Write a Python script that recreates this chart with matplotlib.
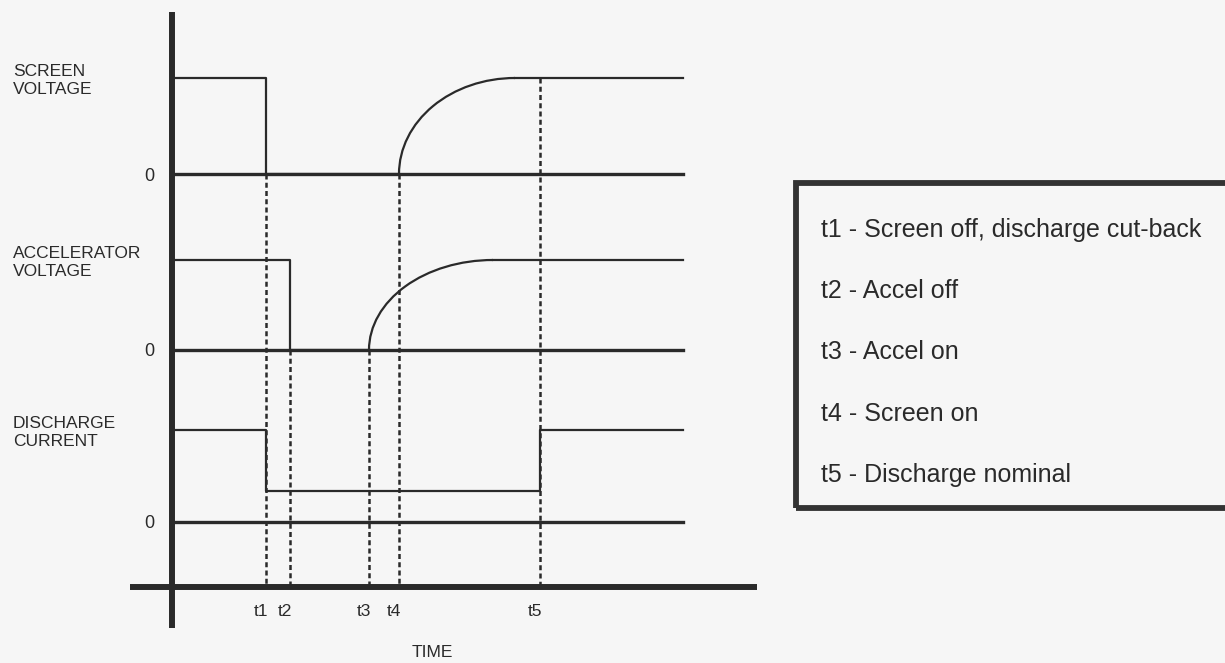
import matplotlib
matplotlib.use("Agg")
import matplotlib.pyplot as plt
from matplotlib.patches import Arc, Rectangle

# event times (arbitrary time units) and their labels
event_labels = ["t1", "t2", "t3", "t4", "t5"]
event_times = [0.94, 1.18, 1.97, 2.27, 3.68]
t_end = 5.11

# traces: stacked baselines and "on" amplitudes
signal_names = ["SCREEN\nVOLTAGE", "ACCELERATOR\nVOLTAGE", "DISCHARGE\nCURRENT"]
baselines = [4.13, 2.37, 0.65]
amplitudes = [0.96, 0.90, 0.92]
discharge_cutback = 0.31
screen_rise_end = 3.43
accel_rise_end = 3.21

# dashed guide tops for each event
dashed_tops = [4.13, 2.37, 2.37, 4.13, 5.09]

legend_lines = [
    "t1 - Screen off, discharge cut-back",
    "t2 - Accel off",
    "t3 - Accel on",
    "t4 - Screen on",
    "t5 - Discharge nominal",
]

ink = "#2a2a2a"
bg = "#f6f6f6"
plt.rcParams["font.family"] = ["Liberation Sans", "DejaVu Sans"]

fig = plt.figure(figsize=(12.25, 6.63), dpi=100, facecolor=bg)
ax = fig.add_axes([0, 0, 1, 1], facecolor=bg)
ax.set_xlim(-1.72, 10.53)
ax.set_ylim(-0.76, 5.87)
ax.axis("off")

# dashed event guides
for t, top in zip(event_times, dashed_tops):
    ax.plot([t, t], [top, 0], color=ink, lw=1.8, ls=(0, (2.0, 1.3)), zorder=1)

# zero lines
for b in baselines:
    ax.plot([0, t_end], [b, b], color=ink, lw=2.4, zorder=2)

t1, t2, t3, t4, t5 = event_times
s_base, a_base, d_base = baselines
s_amp, a_amp, d_amp = amplitudes

# screen voltage
ax.plot([0, t1, t1, t4], [s_base + s_amp, s_base + s_amp, s_base, s_base], color=ink, lw=1.6, zorder=3)
ax.add_patch(Arc((screen_rise_end, s_base), 2 * (screen_rise_end - t4), 2 * s_amp,
                 theta1=90, theta2=180, color=ink, lw=1.6, zorder=3))
ax.plot([screen_rise_end, t_end], [s_base + s_amp] * 2, color=ink, lw=1.6, zorder=3)

# accelerator voltage
ax.plot([0, t2, t2, t3], [a_base + a_amp, a_base + a_amp, a_base, a_base], color=ink, lw=1.6, zorder=3)
ax.add_patch(Arc((accel_rise_end, a_base), 2 * (accel_rise_end - t3), 2 * a_amp,
                 theta1=90, theta2=180, color=ink, lw=1.6, zorder=3))
ax.plot([accel_rise_end, t_end], [a_base + a_amp] * 2, color=ink, lw=1.6, zorder=3)

# discharge current
d_hi = d_base + d_amp
d_lo = d_base + discharge_cutback
ax.plot([0, t1, t1, t5, t5, t_end], [d_hi, d_hi, d_lo, d_lo, d_hi, d_hi], color=ink, lw=1.6, zorder=3)

# main axes
ax.plot([0, 0], [-0.41, 5.75], color=ink, lw=4.3, solid_capstyle="butt", zorder=4)
ax.plot([-0.42, 5.85], [0, 0], color=ink, lw=4.3, solid_capstyle="butt", zorder=4)

# labels
for name, b, a in zip(signal_names, baselines, amplitudes):
    ax.text(-1.59, b + a - 0.16, name, ha="left", va="baseline", fontsize=12.5,
            color=ink, linespacing=1.25)
    ax.text(-0.23, b - 0.065, "0", ha="center", va="baseline", fontsize=13, color=ink)

for lab, t in zip(event_labels, event_times):
    ax.text(t - 0.05, -0.29, lab, ha="center", va="baseline", fontsize=12.5, color=ink)
ax.text(2.605, -0.70, "TIME", ha="center", va="baseline", fontsize=12.5, color=ink)

# legend box
ax.add_patch(Rectangle((796 / 1225, 1 - 508 / 663), 0.4, (508 - 183) / 663,
                       transform=ax.transAxes, fill=False, ec="#333333", lw=4.2, clip_on=False))
for i, line in enumerate(legend_lines):
    ax.text(821 / 1225, 1 - (237 + 61.2 * i) / 663, line, transform=ax.transAxes,
            ha="left", va="baseline", fontsize=18, color=ink)

fig.savefig("out.png", dpi=100, facecolor=bg)
